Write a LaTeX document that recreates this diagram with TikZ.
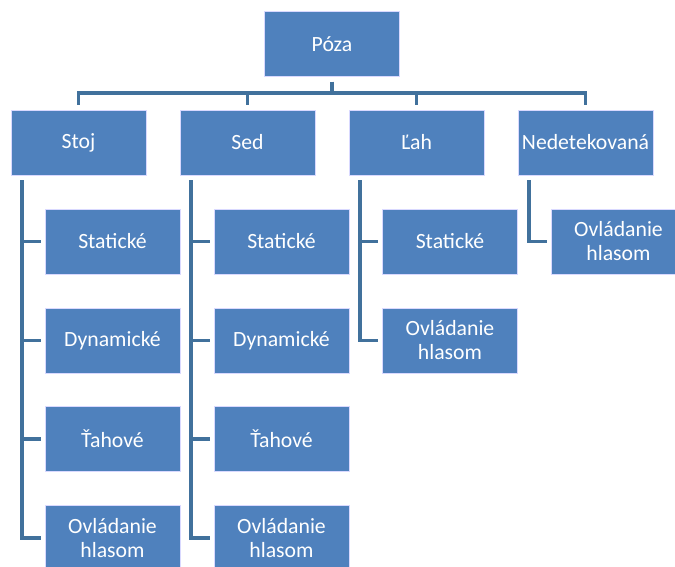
\documentclass[tikz,border=0pt]{standalone}
\usepackage{fontspec}
\setmainfont{Carlito}
\begin{document}
\begin{tikzpicture}[x=0.75pt,y=-0.75pt,
  box/.style={draw=white!85!blue, line width=0.6pt, fill=boxblue, text=white,
    minimum width=101.25pt, minimum height=48.75pt, inner sep=0pt,
    text width=100pt, align=center, font=\fontsize{16.3pt}{18pt}\selectfont},
  conn/.style={draw=lineblue, line width=2.9pt, line join=miter},
  sh/.style={shorten <=3.75pt, shorten >=3pt}]
\definecolor{boxblue}{HTML}{4F81BD}
\definecolor{lineblue}{HTML}{41719C}
\useasboundingbox (0,0) rectangle (675,567);
\clip (0,0) rectangle (675,567);
% root
\node[box] (root) at (332,44) {Póza};
% level 1
\node[box] (stoj) at (78.5,142.5) {Stoj};
\node[box] (sed) at (247.5,142.5) {Sed};
\node[box] (lah) at (416.5,142.5) {Ľah};
\node[box] (ned) at (585.5,142.5) {Nedetekovaná};
% Stoj children
\node[box] (s1) at (112.5,241.5) {Statické};
\node[box] (s2) at (112.5,340.5) {Dynamické};
\node[box] (s3) at (112.5,439) {Ťahové};
\node[box] (s4) at (112.5,538) {Ovládanie\\hlasom};
% Sed children
\node[box] (d1) at (281.5,241.5) {Statické};
\node[box] (d2) at (281.5,340.5) {Dynamické};
\node[box] (d3) at (281.5,439) {Ťahové};
\node[box] (d4) at (281.5,538) {Ovládanie\\hlasom};
% Lah children
\node[box] (l1) at (450,241.5) {Statické};
\node[box] (l2) at (450,340.5) {Ovládanie\\hlasom};
% Ned child
\node[box] (n1) at (618.5,241.5) {Ovládanie\\hlasom};
% root connectors
\foreach \c in {stoj,sed,lah,ned}{
  \draw[conn, shorten <=3.75pt, shorten >=3.75pt] (root.south) -- ++(0,16) -| (\c.north);
}
% child connectors
\foreach \p/\c in {stoj/s1,stoj/s2,stoj/s3,stoj/s4,sed/d1,sed/d2,sed/d3,sed/d4,lah/l1,lah/l2,ned/n1}{
  \draw[conn, sh] ([xshift=8.25pt]\p.south west) |- (\c.west);
}
\end{tikzpicture}
\end{document}
